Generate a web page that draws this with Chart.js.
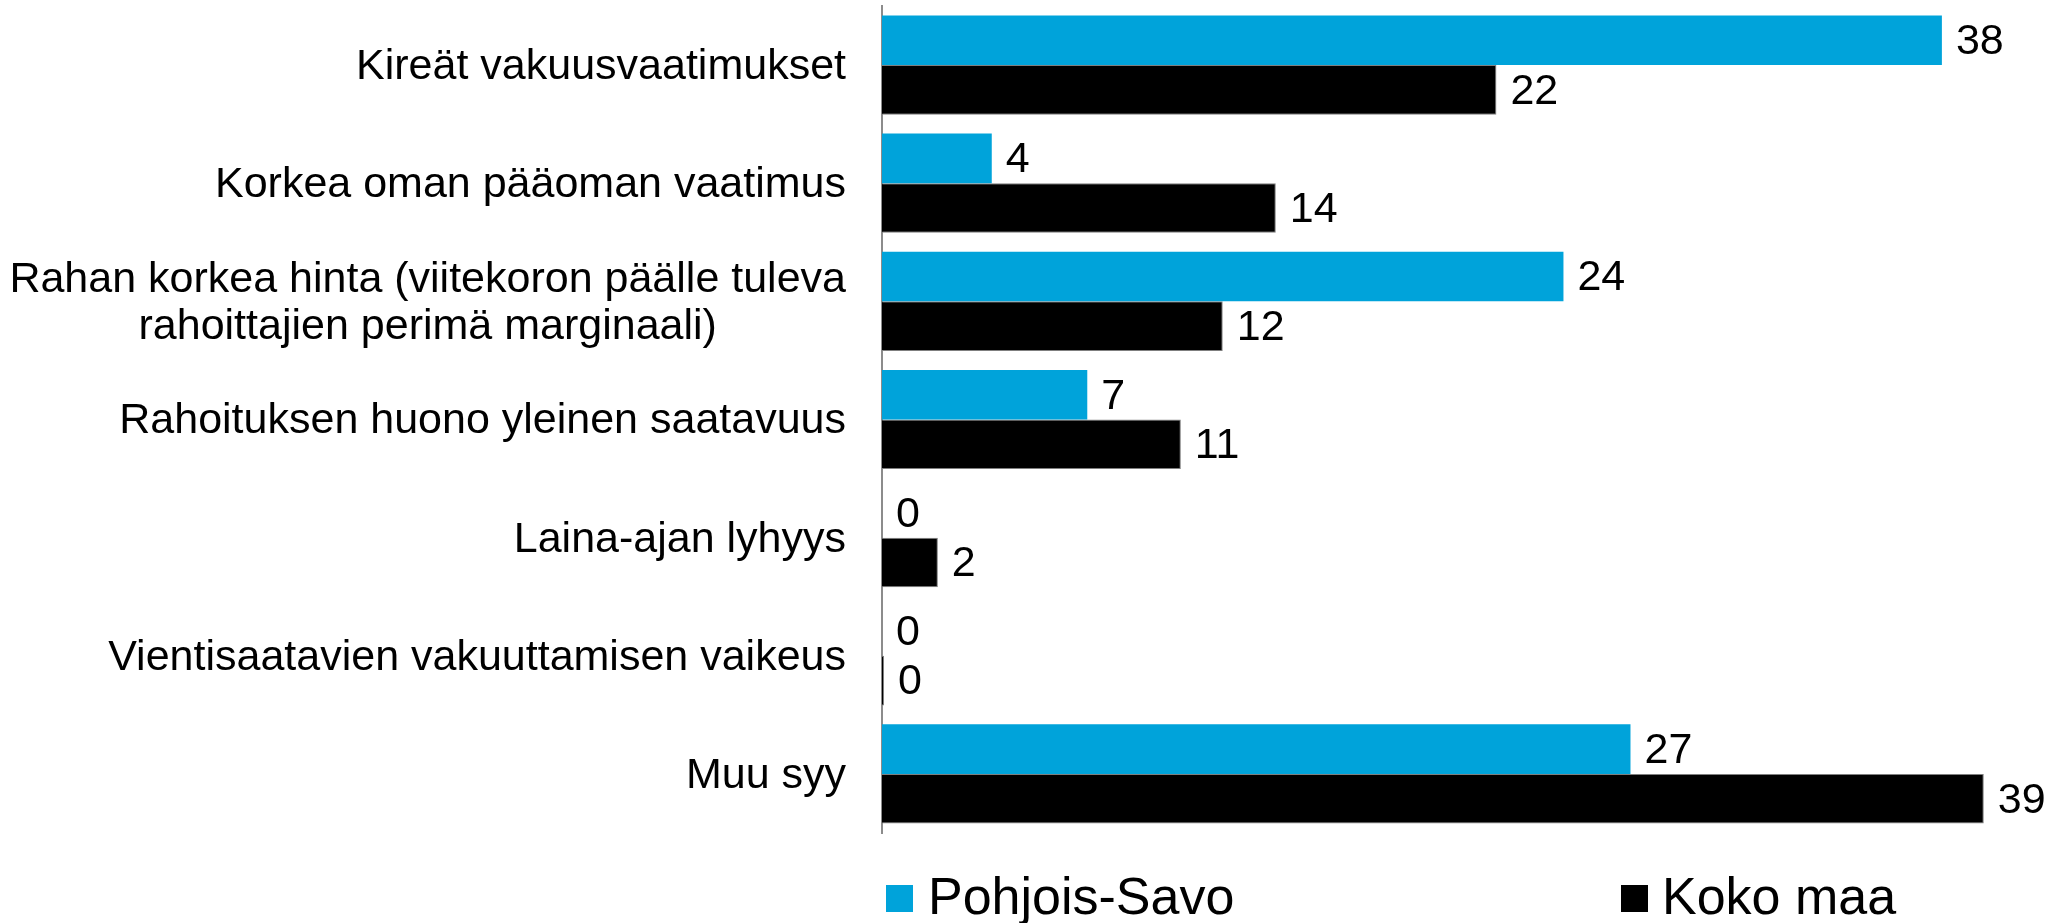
<!DOCTYPE html>
<html>
<head>
<meta charset="utf-8">
<script src="https://cdn.jsdelivr.net/npm/chart.js@4/dist/chart.umd.min.js"></script>
<style>
  html, body { margin: 0; padding: 0; background: #ffffff; }
  #c { display: block; }
</style>
</head>
<body>
<canvas id="c" width="2055" height="923"></canvas>
<script>
const categories = [
  "Kireät vakuusvaatimukset",
  "Korkea oman pääoman vaatimus",
  ["Rahan korkea hinta (viitekoron päälle tuleva", "rahoittajien perimä marginaali)"],
  "Rahoituksen huono yleinen saatavuus",
  "Laina-ajan lyhyys",
  "Vientisaatavien vakuuttamisen vaikeus",
  "Muu syy"
];
// values; labels show the rounded figures
const pohjoisSavo = [37.95, 3.93, 24.4, 7.35, 0, 0, 26.8];
const kokoMaa = [22, 14.1, 12.2, 10.7, 2, 0, 39.45];
const seriesNames = ["Pohjois-Savo", "Koko maa"];
const seriesColors = ["#00a3da", "#000000"];

const FONT = '"Liberation Sans", Arial, Helvetica, sans-serif';

const categoryLabelsPlugin = {
  id: 'categoryLabels',
  afterDraw(chart) {
    const ctx = chart.ctx;
    const y = chart.scales.y;
    const right = chart.chartArea.left - 36;
    ctx.save();
    ctx.font = '43px ' + FONT;
    ctx.fillStyle = '#000000';
    ctx.textBaseline = 'middle';
    ctx.textAlign = 'center';
    const lh = 47;
    chart.data.labels.forEach((lbl, i) => {
      const lines = Array.isArray(lbl) ? lbl : [lbl];
      const maxW = Math.max(...lines.map(l => ctx.measureText(l).width));
      const cy = y.getPixelForValue(i);
      const startY = cy - (lines.length - 1) * lh / 2;
      lines.forEach((l, k) => {
        ctx.fillText(l, right - maxW / 2, startY + k * lh + 2);
      });
    });
    ctx.restore();
  }
};

const valueLabelsPlugin = {
  id: 'valueLabels',
  afterDatasetsDraw(chart) {
    const ctx = chart.ctx;
    ctx.save();
    ctx.font = '43px ' + FONT;
    ctx.fillStyle = '#000000';
    ctx.textBaseline = 'middle';
    ctx.textAlign = 'left';
    chart.data.datasets.forEach((ds, di) => {
      const meta = chart.getDatasetMeta(di);
      meta.data.forEach((el, i) => {
        ctx.fillText(String(Math.round(ds.data[i])), el.x + 14, el.y + 2);
      });
    });
    ctx.restore();
  }
};

const legendPlugin = {
  id: 'customLegend',
  afterDraw(chart) {
    const ctx = chart.ctx;
    const left = chart.chartArea.left;
    const items = [
      { box: left + 4, text: left + 46 },
      { box: left + 739, text: left + 780 }
    ];
    ctx.save();
    ctx.font = '52px ' + FONT;
    ctx.textBaseline = 'alphabetic';
    ctx.textAlign = 'left';
    items.forEach((it, k) => {
      ctx.fillStyle = seriesColors[k];
      ctx.fillRect(it.box, 885, 27, 27);
      ctx.fillStyle = '#000000';
      ctx.fillText(seriesNames[k], it.text, 914);
    });
    ctx.restore();
  }
};

new Chart(document.getElementById('c'), {
  type: 'bar',
  data: {
    labels: categories,
    datasets: [
      {
        label: seriesNames[0],
        data: pohjoisSavo,
        backgroundColor: seriesColors[0],
        borderWidth: 0
      },
      {
        label: seriesNames[1],
        data: kokoMaa,
        backgroundColor: seriesColors[1],
        borderColor: '#7f7f7f',
        borderWidth: 1,
        minBarLength: 2
      }
    ]
  },
  options: {
    indexAxis: 'y',
    responsive: false,
    animation: false,
    layout: { padding: { top: 6, bottom: 90, left: 0, right: 0 } },
    datasets: { bar: { categoryPercentage: 0.84, barPercentage: 1 } },
    plugins: {
      legend: { display: false },
      tooltip: { enabled: false }
    },
    scales: {
      x: { display: false, min: 0, max: 42 },
      y: {
        grid: { display: false, drawTicks: false },
        border: { display: true, color: '#8c8c8c', width: 2 },
        ticks: { display: false },
        afterFit(scale) { scale.width = 882; }
      }
    }
  },
  plugins: [categoryLabelsPlugin, valueLabelsPlugin, legendPlugin]
});
</script>
</body>
</html>
